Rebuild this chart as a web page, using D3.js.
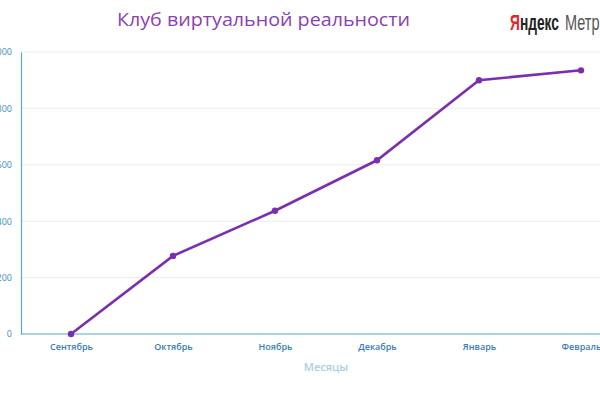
<!DOCTYPE html>
<html><head><meta charset="utf-8">
<script src="https://cdn.jsdelivr.net/npm/d3@7"></script>
<style>body{margin:0;background:#fff}svg{display:block}</style>
</head><body>
<svg id="c" width="600" height="400"></svg>
<script>
const months = ["Сентябрь","Октябрь","Ноябрь","Декабрь","Январь","Февраль"];
const values = [0, 277, 437, 616, 900, 935];
const yTicks = [0, 200, 400, 600, 800, 1000];
const title = "Клуб виртуальной реальности";
const xTitle = "Месяцы";

const svg = d3.select("#c");
const y = d3.scaleLinear().domain([0,1000]).range([334,52]);
const x = d3.scalePoint().domain(months).range([71,581]);

// gridlines
svg.append("g").selectAll("line").data(yTicks.slice(1)).join("line")
  .attr("x1",21).attr("x2",600).attr("y1",d=>y(d)).attr("y2",d=>y(d))
  .attr("stroke","#ececec").attr("stroke-width",1);

// y axis
const ya = svg.append("g").attr("transform","translate(21,0)")
  .call(d3.axisLeft(y).tickValues(yTicks).tickSize(0).tickPadding(9).tickFormat(d3.format("d")));
ya.select(".domain").attr("stroke","#5aa9c0").attr("stroke-width",1.2);
ya.selectAll("text").attr("fill","#3b8fb8").style("font-family","'Open Sans',sans-serif").style("font-size","9px");

// x axis labels
const xa = svg.append("g").attr("transform","translate(0,334)")
  .call(d3.axisBottom(x).tickSize(0).tickPadding(10));
xa.select(".domain").remove();
xa.selectAll("text").attr("fill","#3a7db4").style("font-family","'Open Sans',sans-serif").style("font-size","9px").style("font-weight","600");
svg.append("line").attr("x1",21).attr("x2",600).attr("y1",334).attr("y2",334)
  .attr("stroke","#5aa9c0").attr("stroke-width",1.2);

svg.append("text").attr("x",326).attr("y",371).attr("text-anchor","middle")
  .attr("fill","#a8cfe4").style("font-family","'Open Sans',sans-serif").style("font-size","11px").style("font-weight","600").text(xTitle);

// line
svg.append("path").datum(values)
  .attr("fill","none").attr("stroke","#7b2fae").attr("stroke-width",2.6)
  .attr("d", d3.line().x((d,i)=>x(months[i])).y(d=>y(d)));
svg.append("g").selectAll("circle").data(values).join("circle")
  .attr("cx",(d,i)=>x(months[i])).attr("cy",d=>y(d)).attr("r",3.2).attr("fill","#7b2fae");

// title
svg.append("text").attr("x",117).attr("y",26).attr("textLength",293).attr("lengthAdjust","spacingAndGlyphs")
  .attr("fill","#8a3fb2").style("font-family","'Open Sans',sans-serif").style("font-size","19px").text(title);

// logo
const ym = svg.append("text")
  .style("font-family","'Liberation Sans',sans-serif").style("font-size","22px").style("font-weight","bold");
ym.append("tspan").attr("fill","#e3262a").text("Я");
ym.append("tspan").attr("fill","#222").text("ндекс");
const w = ym.node().getComputedTextLength();
ym.attr("transform",`translate(510,30) scale(${49/w},1)`);
svg.append("text").attr("transform","translate(565,30) scale(0.66,1)")
  .attr("fill","#555").style("font-family","'Liberation Sans',sans-serif").style("font-size","22px").text("Метрика");
</script>
</body></html>
